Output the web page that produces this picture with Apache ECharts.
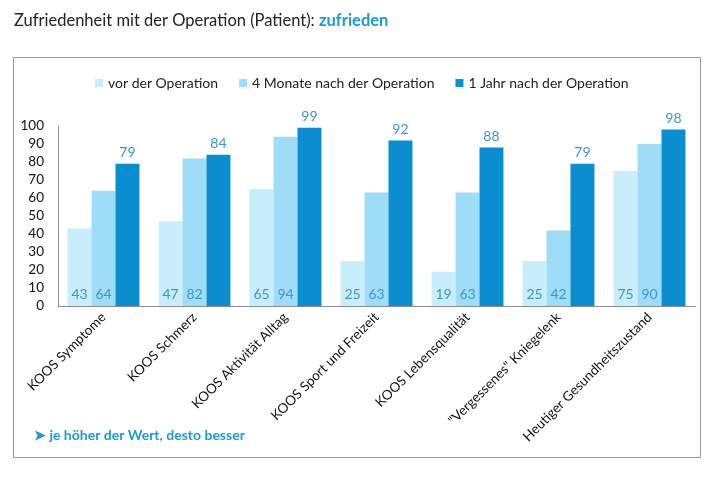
<!DOCTYPE html>
<html><head><meta charset="utf-8">
<script src="https://cdn.jsdelivr.net/npm/echarts@6/dist/echarts.min.js"></script>
<style>html,body{margin:0;padding:0;background:#fff}#c{width:725px;height:478px}</style>
</head><body><div id="c"></div>
<script>
var categories = ['KOOS Symptome','KOOS Schmerz','KOOS Aktivität Alltag','KOOS Sport und Freizeit','KOOS Lebensqualität','"Vergessenes" Kniegelenk','Heutiger Gesundheitszustand'];
var seriesNames = ['vor der Operation','4 Monate nach der Operation','1 Jahr nach der Operation'];
var vorOp = [43,47,65,25,19,25,75];
var monate4 = [64,82,94,63,63,42,90];
var jahr1 = [79,84,99,92,88,79,98];
var colors = ['#c8edfb','#9edcf7','#0a8ed0'];
var F = 'Lato, "Open Sans", sans-serif';
var chart = echarts.init(document.getElementById('c'));
var insideLabel = {show:true, position:'insideBottom', distance:5, color:'#3a97cf', fontSize:14, fontFamily:F};
chart.setOption({
  animation:false,
  textStyle:{fontFamily:F},
  title:{left:9, top:7, text:'{a|Zufriedenheit mit der Operation (Patient): }{b|zufrieden}',
    textStyle:{fontWeight:'normal', rich:{a:{fontSize:16.5, color:'#222', fontWeight:'normal', fontFamily:F}, b:{fontSize:16.5, color:'#1a9bd7', fontWeight:'bold', fontFamily:F}}}},
  graphic:[
    {type:'rect', shape:{x:13.5,y:57.5,width:687,height:400}, style:{fill:'none', stroke:'#9a9a9a', lineWidth:1}, z:-1},
    {type:'text', left:34, top:428, style:{text:'➤ je höher der Wert, desto besser', fill:'#1a9bd7', font:'bold 14px Lato, "Open Sans", sans-serif'}}
  ],
  legend:{top:71, left:90, itemWidth:8, itemHeight:8, itemGap:21, icon:'rect',
    textStyle:{fontSize:14, color:'#222', fontFamily:F}, data:seriesNames},
  grid:{left:58, right:30, top:126, bottom:172, containLabel:false},
  xAxis:{type:'category', data:categories,
    axisLine:{lineStyle:{color:'#8c8c8c'}}, axisTick:{show:false},
    axisLabel:{rotate:45, interval:0, fontSize:13.5, color:'#111', fontFamily:F, margin:9}},
  yAxis:{type:'value', min:0, max:100, interval:10,
    axisLine:{show:true, lineStyle:{color:'#8c8c8c'}}, axisTick:{show:false}, splitLine:{show:false},
    axisLabel:{fontSize:13.5, color:'#111', fontFamily:F, margin:14}},
  series:[
    {name:seriesNames[0], type:'bar', data:vorOp, itemStyle:{color:colors[0]}, barGap:'0%', barCategoryGap:'21%', label:insideLabel},
    {name:seriesNames[1], type:'bar', data:monate4, itemStyle:{color:colors[1]}, barGap:'0%', barCategoryGap:'21%', label:insideLabel},
    {name:seriesNames[2], type:'bar', data:jahr1, itemStyle:{color:colors[2]}, barGap:'0%', barCategoryGap:'21%',
      label:{show:true, position:'top', distance:4, color:'#3a97cf', fontSize:14, fontFamily:F}}
  ]
});
</script></body></html>
